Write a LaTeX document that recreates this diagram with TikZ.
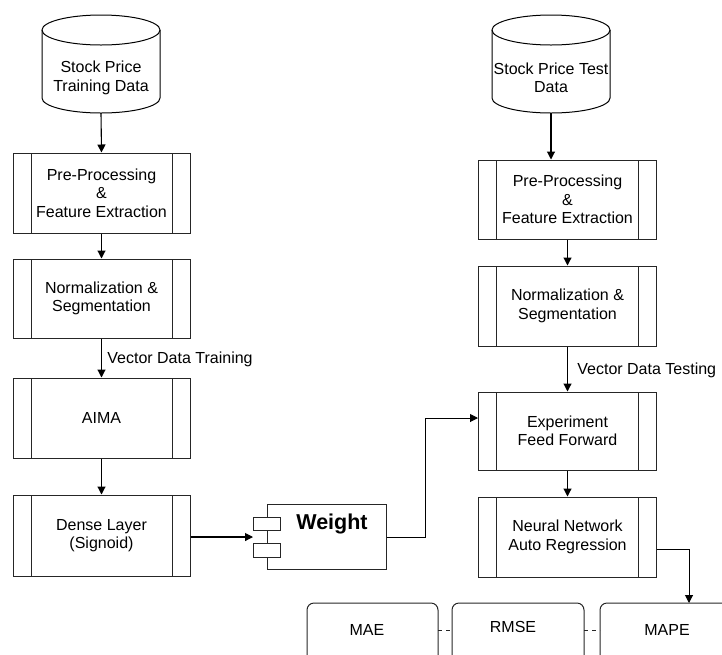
\documentclass[tikz,border=0pt]{standalone}
\usepackage{fontspec}
\setmainfont{Liberation Sans}
\usetikzlibrary{arrows.meta,positioning}
\begin{document}
\begin{tikzpicture}[x=1pt,y=-1pt,
  every node/.style={font=\fontsize{16}{18.5}\selectfont, align=center},
  proc/.style={draw=black!85, line width=1pt, rectangle, inner sep=0pt,
    path picture={
      \draw[black!85, line width=1pt] ([xshift=18pt]path picture bounding box.north west) -- ([xshift=18pt]path picture bounding box.south west);
      \draw[black!85, line width=1pt] ([xshift=-18pt]path picture bounding box.north east) -- ([xshift=-18pt]path picture bounding box.south east);}},
  rnd/.style={draw=black!85, line width=1pt, rounded corners=7pt, rectangle},
  arr/.style={-{Triangle[length=8pt,width=8pt]}, line width=1.1pt},
  conn/.style={line width=1pt, draw=black!85},
  cyl/.style={draw=black, line width=1pt}
]
\useasboundingbox (0,0) rectangle (722,654);
\clip (0,0) rectangle (722,654);

% cylinders
\draw[cyl] (42,30) -- (42,98) arc[start angle=180,end angle=360,x radius=59pt,y radius=15pt] -- (160,30);
\draw[cyl] (101,30) ellipse[x radius=59pt,y radius=15pt];
\node (cylL) at (101,78) {Stock Price\\Training Data};
\coordinate (cylLb) at (101,113);

\draw[cyl] (492,30) -- (492,98) arc[start angle=180,end angle=360,x radius=59pt,y radius=15pt] -- (610,30);
\draw[cyl] (551,30) ellipse[x radius=59pt,y radius=15pt];
\node (cylR) at (551,78) {Stock Price Test\\Data};
\coordinate (cylRb) at (551,113);

% left column
\node[proc, minimum width=177pt, minimum height=80pt] (l1) at (101.5,193) {Pre-Processing\\\&\\Feature Extraction};
\node[proc, minimum width=177pt, minimum height=79pt] (l2) at (101.5,298.5) {Normalization \&\\Segmentation};
\node[proc, minimum width=177pt, minimum height=80pt] (l3) at (101.5,418) {AIMA};
\node[proc, minimum width=177pt, minimum height=81pt] (l4) at (101.5,535.5) {Dense Layer\\(Signoid)};

% right column
\node[proc, minimum width=178pt, minimum height=79pt] (r1) at (567.5,199.5) {Pre-Processing\\\&\\Feature Extraction};
\node[proc, minimum width=178pt, minimum height=80pt] (r2) at (567.5,306) {Normalization \&\\Segmentation};
\node[proc, minimum width=178pt, minimum height=78pt] (r3) at (567.5,431) {Experiment\\Feed Forward};
\node[proc, minimum width=178pt, minimum height=80pt] (r4) at (567.5,537) {Neural Network\\Auto Regression};

% weight component
\node[draw=black!85, line width=1pt, minimum width=119pt, minimum height=65pt, inner sep=0pt] (w) at (326.5,536.5) {};
\node[font=\bfseries\fontsize{21.5}{24}\selectfont] (wt) at (332,524) {Weight};
\draw[black!85, line width=1pt, fill=white] (253,517) rectangle (280,530);
\draw[black!85, line width=1pt, fill=white] (253,543) rectangle (280,557);
\coordinate (win) at (253,537);

% bottom metrics
\node[rnd, minimum width=131pt, minimum height=70pt] (mae) at (372.5,638) {};
\node at (367,630) {MAE};
\node[rnd, minimum width=132pt, minimum height=70pt] (rmse) at (518,638) {};
\node at (513,627) {RMSE};
\node[rnd, minimum width=140pt, minimum height=70pt] (mape) at (670,638) {};
\node at (667,630) {MAPE};
\draw[conn, dash pattern=on 4pt off 4pt] (438,630) -- (452,630);
\draw[conn, dash pattern=on 4pt off 4pt] (584,630) -- (600,630);

% arrows
\draw[arr] (cylLb) -- (l1.north);
\draw[arr] (l1) -- (l2);
\draw[arr] (l2) -- node[right, xshift=2pt, yshift=-1pt] {Vector Data Training} (l3);
\draw[arr] (l3) -- (l4);
\draw[arr] (l4.east |- win) -- (win);

\draw[arr] (cylRb) -- (cylRb |- r1.north);
\draw[arr] (r1) -- (r2);
\draw[arr] (r2) -- node[right, xshift=6pt, yshift=-1pt] {Vector Data Testing} (r3);
\draw[arr] (r3) -- (r4);
\draw[arr, line width=1pt] (w.east |- win) -- (425,537) -- (425,418) -- (r3.west |- 0,418);
\draw[arr, line width=1pt] (r4.east |- 0,549) -- (689,549) -- (689,603);
\end{tikzpicture}
\end{document}
